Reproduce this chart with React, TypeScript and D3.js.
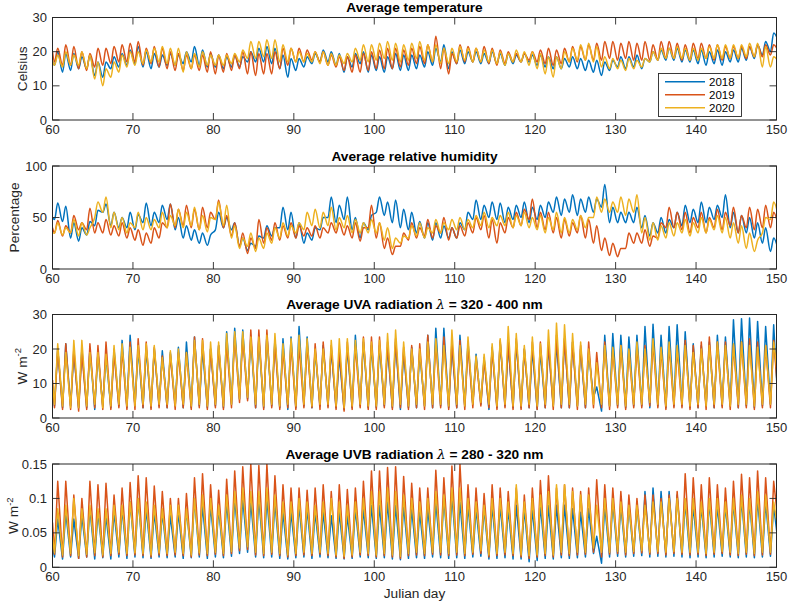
import React from 'react';
import * as d3 from 'd3';

const YEARS = ['2018', '2019', '2020'];
const COLORS = ['#0072BD', '#D95319', '#EDB120'];
const X_TICKS = [60, 70, 80, 90, 100, 110, 120, 130, 140, 150];

// ---------- Temperature (Celsius): daily peaks (days 60-149) and troughs (days 60-150)
const TEMP_START = [17.5, 20, 17.5];
const TEMP_2018_MAX = [20,19.5,19.5,18.5,19,17,17,18.5,19.5,20.5, 21.5,20,19.5,19,19.5,19,20,21.5,20.5,19.5, 19,18.5,19,18.5,20,21,21.5,21,19,18, 18,18.5,19.5,20.5,20,19.5,18.5,19.5,20,19, 18.5,18.5,19.5,19,19,19,20,21,22,20, 20.5,20,20,19.5,20,19.5,19.5,19,19.5,19, 19,18.5,18.5,18,18.5,18,17.5,17.5,17,17.5, 18.5,18.5,19,18,20,20.5,21,21,20.5,20.5, 20.5,20,20.5,20,20.5,21,21.5,22,23,25.5];
const TEMP_2018_MIN = [16,14,14.5,15,15,13,12.5,15,15.5,16, 16.5,15.5,15,15.5,16,16,16.5,17,16,15.5, 15.5,15,15.5,15.5,17,17,17,16.5,15,12.5, 14.5,15.5,16.5,17,17,16,14,15.5,16.5,14, 14.5,14,15,14.5,14.5,15,15.5,16,17,15, 16.5,16.5,17,16.5,16.5,16.5,16,16.5,17,17, 16,15.5,15,15,15.5,15,14.5,14,13,14.5, 15.5,15,15.5,15,17,17.5,17.5,17.5,17,17, 16.5,16,16.5,16,17,17,17.5,18,19,20, 23];
const TEMP_2019_MAX = [21,22,21.5,20,19.5,21,21,21.5,22,22.5, 23,21,21.5,21,20,19.5,19,19,19,20, 19,19.5,19,20,20,19.5,19.5,20,21,21, 21,20.5,20,20,19,18.5,18.5,19,19.5,20, 20.5,21,21,20.5,21,21.5,22,24.5,21,19.5, 22,21.5,21,21.5,21,20.5,20,19.5,19.5,20, 20.5,21,20.5,21,21.5,21.5,22,22.5,23,23, 22.5,23,22.5,23,22,23,23,22.5,22,22.5, 22.5,22,22,21.5,21.5,21.5,21.5,22,22,22];
const TEMP_2019_MIN = [17,16,16,15,14.5,15.5,16,16.5,17,17, 17,16,16.5,15.5,15,14.5,14.5,15,14.5,14, 13.5,14,14.5,15,13.5,13,13.5,13.5,15,16, 17,17,17.5,17,16,15.5,14.5,14,14,14.5, 15,15,15,15.5,16,16.5,16.5,17,15,13.5, 16.5,17,17,17,16.5,16,16.5,17,17,17.5, 17,16.5,16,16.5,17,17,17.5,17.5,17.5,18, 17.5,18,17.5,17.5,17.5,17.5,18,18,17.5,17.5, 18,18,17.5,17.5,18,18,18,18.5,18.5,19, 20];
const TEMP_2020_MAX = [19,20,19,20,19,17,15,17,19,20, 20,20.5,21,21.5,21,21,20,19.5,20,19, 19,19,19.5,20.5,23,23,23.5,23.5,22,21, 20,19.5,20,20,19.5,19,19.5,21,22,22, 22.5,23,22.5,22,22.5,23,22,22,21,21, 21.5,21,21,20.5,20.5,20,19.5,20.5,20,20, 19.5,18.5,18.5,20,21,22,22.5,21.5,18.5,18, 17.5,18,17.5,18,20,21,21,21.5,21,21, 21,21.5,22,22,22,22,22.5,22.5,21.5,18.5];
const TEMP_2020_MIN = [16,15.5,16,16,15,12,10,12.5,14,15.5, 16,16.5,17,17,16.5,16,14,15,15.5,16, 16,16,16.5,17,18,18,18.5,18,17,17, 17,17,17,16.5,16,16,16.5,17,17.5,17, 17.5,18,17.5,17,17.5,18,17.5,17,16.5,16.5, 17,17.5,17,17,17,16.5,16,17,17,16, 15,13.5,12.5,15,17,17.5,17.5,17,15.5,15, 15,14.5,15,15.5,17,17.5,18,18,18,17.5, 17.5,18,18,18,18,18,18.5,18.5,15.5,15.5, 17];

// ---------- Relative humidity (%)
const HUM_START = [50, 40, 35];
const HUM_2018_MAX = [64,61,45,40,46,57,63,55,50,55, 53,64,55,62,63,50,42,38,35,33, 55,50,45,30,25,32,42,40,60,55, 45,35,40,50,70,62,70,50,45,52, 70,65,67,58,55,46,45,45,42,40, 45,55,67,62,65,64,60,62,65,60, 62,65,70,68,72,68,70,68,82,60, 55,55,60,52,45,50,48,55,62,58, 65,60,62,72,55,52,50,45,40,30];
const HUM_2018_MIN = [48,46,30,27,33,42,55,42,40,40, 38,45,42,45,48,38,30,28,25,23, 38,40,38,22,18,22,30,32,40,38, 30,25,28,38,50,45,48,38,30,38, 55,52,45,40,38,35,30,28,30,30, 30,38,48,48,50,48,45,48,50,45, 48,50,55,52,55,52,55,55,60,45, 45,45,45,40,32,35,35,40,42,45, 45,45,48,50,40,35,35,30,25,17, 17];
const HUM_2019_MAX = [47,42,52,45,59,45,48,42,45,40, 38,35,40,45,63,58,62,58,60,55, 67,52,45,35,30,48,40,45,42,45, 42,40,42,40,45,45,42,45,40,62, 45,30,22,35,45,40,48,42,50,40, 42,45,50,52,48,45,50,55,58,68, 55,55,50,48,45,52,48,42,30,25, 20,35,35,38,32,45,60,55,55,50, 55,50,58,55,60,52,60,58,62,55];
const HUM_2019_MIN = [35,32,35,38,38,35,35,33,32,30, 28,23,25,30,40,40,42,40,38,40, 48,40,32,22,15,20,25,28,28,30, 30,32,32,30,35,35,33,30,27,40, 30,20,14,22,28,30,32,30,35,28, 30,32,35,38,30,25,35,40,42,48, 40,38,35,30,32,35,30,25,18,13, 12,20,25,25,22,30,40,40,38,35, 40,35,40,38,42,35,40,38,40,40, 40];
const HUM_2020_MAX = [45,40,48,45,40,65,70,55,50,45, 55,50,48,55,52,58,55,60,52,50, 65,62,42,30,35,30,35,40,45,42, 45,55,58,55,60,50,52,48,45,48, 45,40,30,32,42,45,40,48,45,48, 50,48,52,55,50,52,55,52,55,50, 52,50,55,50,48,52,50,70,68,65, 70,68,72,50,45,42,45,45,48,45, 50,48,52,50,45,42,35,28,50,65];
const HUM_2020_MIN = [35,33,35,32,33,50,55,40,38,35, 40,38,38,40,40,42,40,42,38,36, 48,42,30,20,22,17,20,25,30,32, 35,38,42,40,42,38,40,35,35,35, 35,28,20,25,30,32,30,35,35,38, 38,38,40,42,40,42,42,40,42,40, 38,35,38,35,35,38,40,50,55,55, 55,52,55,35,28,28,30,32,35,32, 35,35,38,35,30,25,20,17,35,48, 50];

// ---------- UVA radiation (W m^-2)
const UVA_START = [9, 11, 10];
const UVA_2018_MAX = [20,21.5,19,20,20,19,18,20,22.5,24, 20,20,20,19.5,19,20.5,22,23.5,20,20, 21,25,26,25.5,23,23,24,23,23,23.5, 26.5,23.5,19.5,21,20,18,20.5,24,22,21, 21,20.5,22,19,20.5,19,24,26,26,21, 24,22,18.5,17.5,20.5,22,21,22,20,20, 19.5,21,22,23,22,20,19,9,24,24.5, 24,23.5,24,26.5,27.2,24,26.5,27,25,21.5, 21,22,24,23.5,28.5,28.8,29,28,26.5,27];
const UVA_2018_MIN = [3.5,3,3.5,3,3,2.5,3.5,3,3.5,3, 3.5,3,3,3.5,3,3.5,3,3,3.5,3, 3.5,3,4,5.5,5.5,3,3,3.5,3,2.5, 3,3.5,3,3.5,3.5,3,2.5,3,3.5,3, 3,3.5,3,2.5,3,3,3.5,3,3.5,3, 3,3.5,4,4,2.5,3,3.5,3,3,3, 2.5,3,3.5,3,3,3.5,3,6,2,3.5, 3.5,3,3.5,3.5,3,3.5,3,3.5,3.5,3, 3,3.5,3,3.5,3.5,3,3.5,3,3.5,4, 1];
const UVA_2019_MAX = [20,21.5,20,19,21.5,21,22,19,20,22, 23,22,20.5,18,18.5,19,19,23.5,23,20, 21,22,24,23.5,25.5,25.5,25.5,22,20,21.5, 21,21.5,21.5,22,21,20,22,21,23.5,23.5, 23.5,22,23,20.5,21,21.5,24,22,23.5,22, 22.5,21,17.5,17,20,22.5,22,23,20,22, 22,22,24,23,22,21,22,19,22,20, 21,19.5,21,21,22,20,21,20,22.5,21, 22,23.5,22,22,21,22,23,22,21,22.5];
const UVA_2019_MIN = [3,2.5,2.5,2,2.5,3,2.5,2.5,3,2.5, 2.5,3,2.5,3,3,2.5,3,2.5,3,2.5, 3,2.5,3,4.5,5,3,2.5,3,2.5,3, 2.5,3,3,2.5,3,2.5,2,2.5,3,2.5, 2.5,3,2.5,3,2.5,3,2.5,3,3,2.5, 3,2.5,3,3.5,3,2.5,3,2.5,2.5,3, 2.5,3,2.5,3,3,2.5,3,3,3,2.5, 3,2.5,3,3,3.5,3,2.5,3,3,2.5, 3,2.5,3,3,2.5,3,3,2.5,3,3, 5];
const UVA_2020_MAX = [21.5,19,22.5,22.5,19,19,18.5,21,21.5,20.5, 21,21.5,21,17.5,19.5,20,19,22.5,22.5,22, 22,24.5,25,25,23.5,23.5,24,24.5,21.5,23, 24,23,20,20,22.5,23,23,22.5,23,22, 22.5,24.5,25.5,22,20,20,22,23,21,25.5, 21,23.5,18,18.5,21.5,23,26.5,24.5,21,23.5, 21.5,25.5,27.5,27,24.5,22,20,16,21,20.5, 21,20,22,20,23,20.5,22,21,21,19, 20,21,22,21,21.5,22,21,20.5,21,22];
const UVA_2020_MIN = [4,3.5,3,3,3.5,4,3,3.5,4,3.5, 3.5,4,3.5,4,4,3.5,4,3.5,4,3.5, 4,3.5,4,5.5,6,4,3.5,4,3.5,4, 3.5,4,3.5,4,4,3.5,3,3.5,4,3.5, 3.5,4,3.5,4,3.5,4,3.5,4,4,3.5, 4,3.5,4,4.5,4,3.5,4,3.5,3.5,4, 3.5,4,3.5,4,4,3.5,4,4,4,3.5, 4,3.5,4,4,4.5,4,3.5,4,4,3.5, 4,3.5,4,4,3.5,4,4,3.5,4,4, 10];

// ---------- UVB radiation (W m^-2)
const UVB_START = [0.03, 0.065, 0.045];
const UVB_2018_MAX = [.07,.08,.07,.075,.085,.08,.075,.08,.085,.095, .10,.085,.08,.08,.075,.08,.085,.10,.09,.09, .085,.095,.10,.10,.095,.10,.10,.095,.08,.08, .09,.085,.08,.08,.075,.08,.075,.085,.085,.09, .09,.095,.09,.09,.085,.08,.085,.095,.10,.105, .095,.09,.085,.085,.09,.09,.085,.09,.085,.085, .09,.09,.09,.09,.085,.08,.085,.045,.09,.095, .09,.09,.09,.11,.115,.11,.11,.105,.095,.09, .09,.095,.09,.09,.095,.10,.095,.10,.095,.09];
const UVB_2018_MIN = [.015,.012,.015,.013,.015,.012,.014,.012,.015,.013, .015,.014,.013,.015,.014,.015,.013,.014,.015,.013, .015,.014,.016,.02,.022,.015,.014,.015,.013,.012, .014,.015,.013,.015,.014,.013,.012,.013,.015,.014, .013,.014,.012,.011,.013,.014,.013,.015,.014,.013, .014,.013,.015,.016,.012,.013,.014,.012,.012,.008, .01,.013,.012,.014,.013,.014,.015,.02,.006,.015, .016,.015,.016,.017,.015,.016,.015,.016,.015,.014, .015,.014,.015,.016,.015,.014,.015,.014,.015,.016, .03];
const UVB_2019_MAX = [.125,.125,.105,.10,.125,.12,.122,.105,.115,.123, .133,.13,.118,.11,.10,.10,.107,.13,.136,.12, .112,.128,.14,.146,.15,.148,.15,.133,.12,.115, .115,.112,.115,.12,.11,.12,.113,.115,.125,.14, .14,.145,.146,.132,.122,.115,.115,.141,.13,.147, .15,.12,.115,.107,.12,.115,.11,.115,.105,.115, .126,.133,.115,.12,.115,.11,.115,.127,.12,.115, .11,.105,.10,.105,.105,.10,.105,.11,.136,.13, .12,.13,.12,.115,.125,.135,.13,.14,.13,.125];
const UVB_2019_MIN = [.019,.015,.017,.013,.015,.017,.015,.017,.019,.017, .018,.017,.015,.018,.017,.018,.017,.015,.018,.017, .019,.017,.02,.024,.026,.018,.017,.019,.017,.015, .017,.018,.017,.019,.017,.015,.013,.015,.018,.017, .015,.017,.015,.013,.017,.018,.017,.019,.018,.017, .018,.017,.019,.02,.015,.017,.018,.017,.015,.013, .015,.017,.015,.018,.017,.018,.019,.022,.015,.019, .02,.018,.02,.021,.019,.02,.018,.02,.019,.018, .019,.017,.019,.02,.018,.017,.019,.017,.018,.019, .06];
const UVB_2020_MAX = [.085,.09,.10,.085,.09,.085,.085,.09,.09,.095, .10,.095,.09,.085,.09,.09,.085,.10,.105,.10, .09,.105,.11,.115,.11,.11,.115,.105,.095,.095, .10,.095,.09,.095,.10,.095,.09,.095,.10,.11, .11,.115,.11,.105,.10,.095,.10,.11,.105,.115, .115,.10,.095,.09,.10,.10,.095,.12,.095,.10, .105,.11,.12,.12,.11,.105,.105,.09,.10,.10, .095,.09,.09,.09,.095,.095,.10,.10,.10,.10, .095,.10,.10,.095,.10,.105,.10,.11,.105,.095];
const UVB_2020_MIN = [.021,.018,.02,.017,.019,.021,.018,.02,.022,.02, .021,.02,.018,.021,.02,.022,.02,.018,.021,.02, .022,.02,.023,.028,.03,.022,.02,.022,.02,.018, .02,.022,.02,.022,.02,.018,.016,.018,.022,.02, .018,.02,.018,.016,.02,.022,.02,.022,.022,.02, .022,.02,.022,.024,.018,.02,.022,.02,.018,.017, .018,.02,.018,.022,.02,.022,.022,.028,.022,.022, .023,.022,.023,.024,.022,.023,.022,.023,.022,.022, .022,.02,.022,.023,.022,.02,.022,.02,.022,.022, .05];

type Pt = [number, number];

function buildPoints(start: number, mins: number[], maxs: number[]): Pt[] {
  const out: Pt[] = [[60, start]];
  for (let i = 0; i < maxs.length; i++) {
    out.push([60 + i + 0.25, mins[i]]);
    out.push([60 + i + 0.65, maxs[i]]);
  }
  out.push([60 + maxs.length + 0.25, mins[maxs.length]]);
  return out;
}

const FONT = "'Liberation Sans', Arial, Helvetica, sans-serif";
const AX = '#262626';
const X0 = 52.5;
const X1 = 776.5;

interface PanelDef {
  key: string;
  top: number;
  bottom: number;
  domain: [number, number];
  yTicks: number[];
  fmt: (v: number) => string;
  smooth: boolean;
  series: Pt[][];
}

function Title({ k, x, y }: { k: string; x: number; y: number }) {
  const common = { x, y, textAnchor: 'middle' as const, fontFamily: FONT, fontWeight: 'bold', fontSize: 13.7, fill: '#000' };
  if (k === 'temp') return <text {...common}>Average temperature</text>;
  if (k === 'hum') return <text {...common}>Average relative humidity</text>;
  const rng = k === 'uva' ? '320 - 400 nm' : '280 - 320 nm';
  const name = k === 'uva' ? 'UVA' : 'UVB';
  return (
    <text {...common}>
      {`Average ${name} radiation `}
      <tspan fontFamily="'DejaVu Serif', serif" fontStyle="italic" fontWeight="normal">λ</tspan>
      {` = ${rng}`}
    </text>
  );
}

function YLabel({ k, x, y }: { k: string; x: number; y: number }) {
  const common = { transform: `translate(${x},${y}) rotate(-90)`, textAnchor: 'middle' as const, fontFamily: FONT, fontSize: 13.7, fill: AX };
  if (k === 'temp') return <text {...common}>Celsius</text>;
  if (k === 'hum') return <text {...common}>Percentage</text>;
  return (
    <text {...common}>
      W m<tspan dy={-5.5} fontSize={9.5}>-2</tspan>
    </text>
  );
}

export default function App() {
  const x = d3.scaleLinear().domain([60, 150]).range([X0, X1]);

  const panels: PanelDef[] = [
    {
      key: 'temp', top: 17.5, bottom: 120, domain: [0, 30], yTicks: [0, 10, 20, 30], fmt: (v) => String(v), smooth: true,
      series: [
        buildPoints(TEMP_START[0], TEMP_2018_MIN, TEMP_2018_MAX),
        buildPoints(TEMP_START[1], TEMP_2019_MIN, TEMP_2019_MAX),
        buildPoints(TEMP_START[2], TEMP_2020_MIN, TEMP_2020_MAX),
      ],
    },
    {
      key: 'hum', top: 166, bottom: 269, domain: [0, 100], yTicks: [0, 50, 100], fmt: (v) => String(v), smooth: true,
      series: [
        buildPoints(HUM_START[0], HUM_2018_MIN, HUM_2018_MAX),
        buildPoints(HUM_START[1], HUM_2019_MIN, HUM_2019_MAX),
        buildPoints(HUM_START[2], HUM_2020_MIN, HUM_2020_MAX),
      ],
    },
    {
      key: 'uva', top: 314.5, bottom: 418, domain: [0, 30], yTicks: [0, 10, 20, 30], fmt: (v) => String(v), smooth: false,
      series: [
        buildPoints(UVA_START[0], UVA_2018_MIN, UVA_2018_MAX),
        buildPoints(UVA_START[1], UVA_2019_MIN, UVA_2019_MAX),
        buildPoints(UVA_START[2], UVA_2020_MIN, UVA_2020_MAX),
      ],
    },
    {
      key: 'uvb', top: 464, bottom: 567.3, domain: [0, 0.15], yTicks: [0, 0.05, 0.1, 0.15], fmt: (v) => String(+v.toFixed(2)), smooth: false,
      series: [
        buildPoints(UVB_START[0], UVB_2018_MIN, UVB_2018_MAX),
        buildPoints(UVB_START[1], UVB_2019_MIN, UVB_2019_MAX),
        buildPoints(UVB_START[2], UVB_2020_MIN, UVB_2020_MAX),
      ],
    },
  ];

  const yLabelX: Record<string, number> = { temp: 26.5, hum: 18.5, uva: 26.5, uvb: 18.3 };

  return (
    <svg width={790} height={603} style={{ position: 'absolute', left: 0, top: 0, background: '#fff' }}>
      <rect x={0} y={0} width={790} height={603} fill="#fff" />
      {panels.map((p, pi) => {
        const y = d3.scaleLinear().domain(p.domain).range([p.bottom, p.top]);
        const line = d3
          .line<Pt>()
          .x((d) => x(d[0]))
          .y((d) => y(d[1]))
          .curve(p.smooth ? d3.curveMonotoneX : d3.curveLinear);
        const clipId = `clip-${p.key}`;
        const tl = 7;
        return (
          <g key={p.key}>
            <defs>
              <clipPath id={clipId}>
                <rect x={X0} y={p.top} width={X1 - X0} height={p.bottom - p.top} />
              </clipPath>
            </defs>
            <g clipPath={`url(#${clipId})`}>
              {p.series.map((s, si) => (
                <path key={si} d={line(s) || ''} fill="none" stroke={COLORS[si]} strokeWidth={1.5} strokeLinejoin="round" />
              ))}
            </g>
            {X_TICKS.map((t) => (
              <g key={`xt${t}`}>
                <line x1={x(t)} x2={x(t)} y1={p.bottom} y2={p.bottom - tl} stroke={AX} strokeWidth={0.9} />
                <line x1={x(t)} x2={x(t)} y1={p.top} y2={p.top + tl} stroke={AX} strokeWidth={0.9} />
                <text x={x(t)} y={p.bottom + 14} textAnchor="middle" fontFamily={FONT} fontSize={13} fill={AX}>
                  {t}
                </text>
              </g>
            ))}
            {p.yTicks.map((t) => (
              <g key={`yt${t}`}>
                <line x1={X0} x2={X0 + tl} y1={y(t)} y2={y(t)} stroke={AX} strokeWidth={0.9} />
                <line x1={X1} x2={X1 - tl} y1={y(t)} y2={y(t)} stroke={AX} strokeWidth={0.9} />
                <text x={X0 - 5.5} y={y(t)} dy="0.35em" textAnchor="end" fontFamily={FONT} fontSize={13} fill={AX}>
                  {p.fmt(t)}
                </text>
              </g>
            ))}
            <rect x={X0} y={p.top} width={X1 - X0} height={p.bottom - p.top} fill="none" stroke={AX} strokeWidth={1} />
            <Title k={p.key} x={(X0 + X1) / 2} y={p.top - 5.5} />
            <YLabel k={p.key} x={yLabelX[p.key]} y={(p.top + p.bottom) / 2} />
            {pi === 0 && (
              <g>
                <rect x={658.5} y={73.5} width={83} height={43} fill="#fff" stroke={AX} strokeWidth={0.9} />
                {YEARS.map((yr, i) => (
                  <g key={yr}>
                    <line x1={665} x2={705} y1={81.7 + i * 13} y2={81.7 + i * 13} stroke={COLORS[i]} strokeWidth={1.5} />
                    <text x={709} y={81.7 + i * 13} dy="0.36em" fontFamily={FONT} fontSize={11.5} fill="#000">
                      {yr}
                    </text>
                  </g>
                ))}
              </g>
            )}
          </g>
        );
      })}
      <text x={(X0 + X1) / 2} y={598} textAnchor="middle" fontFamily={FONT} fontSize={13.7} fill={AX}>
        Julian day
      </text>
    </svg>
  );
}
